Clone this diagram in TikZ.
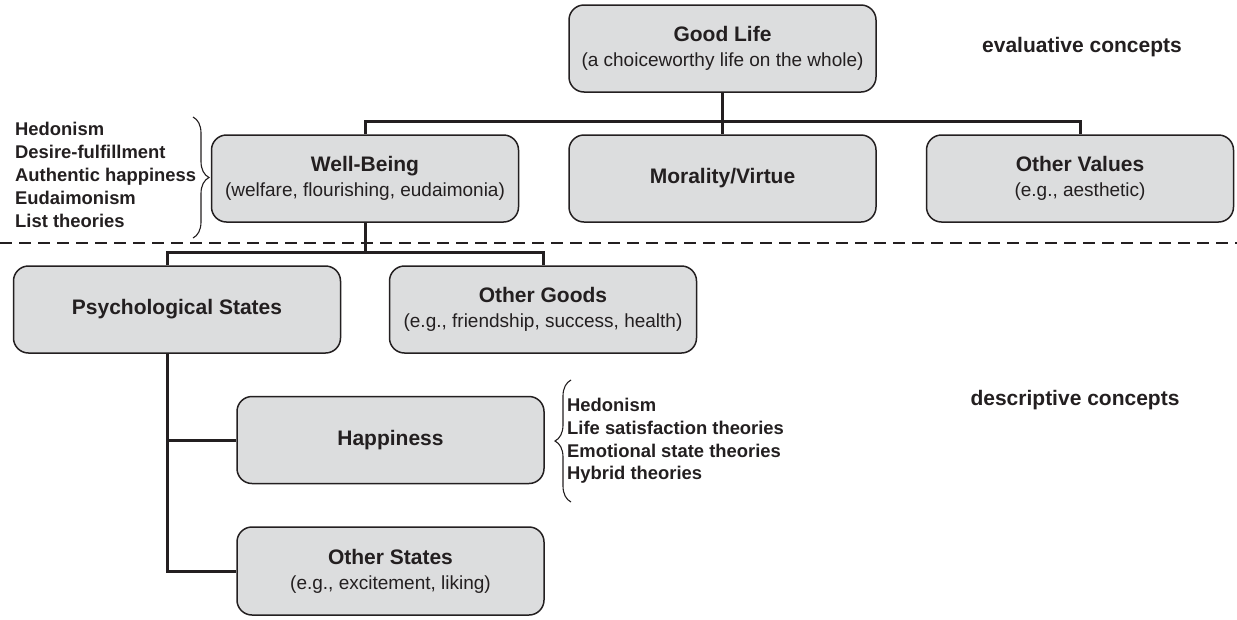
\documentclass[tikz,border=0pt]{standalone}
\usepackage{fontspec}
\setmainfont{Liberation Sans}
\usetikzlibrary{calc,decorations.pathreplacing}
\definecolor{boxfill}{RGB}{220,221,222}
\definecolor{ink}{RGB}{35,31,32}
\tikzset{
  box/.style={draw=ink, line width=1.5pt, fill=boxfill, rounded corners=15pt,
    minimum width=307pt, minimum height=87pt, inner sep=0pt, align=center,
    text=ink, font=\fontsize{19}{25}\selectfont},
  conn/.style={draw=ink, line width=3pt},
  bracestyle/.style={draw=ink, line width=1.1pt, decorate,
    decoration={brace, amplitude=16pt, aspect=0.5}},
  listtext/.style={align=left, anchor=west, inner sep=0pt, text=ink,
    font=\fontsize{18.4}{22.8}\selectfont\bfseries},
  concept/.style={inner sep=0pt, text=ink, font=\fontsize{21}{25}\selectfont\bfseries},
  sep/.style={draw=ink, line width=1.3pt, dash pattern=on 12pt off 7pt}
}
\newcommand{\ttl}[1]{{\bfseries\fontsize{21}{25}\selectfont #1}}
\begin{document}
\begin{tikzpicture}[x=1pt,y=-1pt]
\useasboundingbox (0,0) rectangle (1237,619);
% nodes
\node[box] (gl) at (722.5,48.5) {\ttl{Good Life}\\(a choiceworthy life on the whole)};
\node[box] (wb) at (365,178.5) {\ttl{Well-Being}\\(welfare, flourishing, eudaimonia)};
\node[box] (mv) at (722.5,178.5) {\ttl{Morality/Virtue}};
\node[box] (ov) at (1080,178.5) {\ttl{Other Values}\\(e.g., aesthetic)};
\node[box, minimum width=327pt] (ps) at (177,309.5) {\ttl{Psychological States}};
\node[box] (og) at (543,309.5) {\ttl{Other Goods}\\(e.g., friendship, success, health)};
\node[box] (hp) at (390.5,440) {\ttl{Happiness}};
\node[box, minimum height=88pt] (os) at (390.5,571) {\ttl{Other States}\\(e.g., excitement, liking)};
% helper coordinates
\coordinate (bus1) at (0,121);
\coordinate (bus2) at (0,252);
\coordinate (psx) at (167,0);
\coordinate (dl) at (0,243);
\coordinate (dr) at (1237,243);
% dashed separator
\draw[sep] (dl) -- (dr);
% connectors
\draw[conn] (gl.south) -- (mv.north);
\draw[conn] (wb.north) -- (wb.north |- bus1) -- (ov.north |- bus1) -- (ov.north);
\draw[conn] (wb.south) -- (wb.south |- bus2);
\draw[conn] (psx |- ps.north) -- (psx |- bus2) -- (og.north |- bus2) -- (og.north);
\draw[conn] (psx |- ps.south) -- (psx |- os.west) -- (os.west);
\draw[conn] (psx |- hp.west) -- (hp.west);
% left list and brace
\node[listtext] (wbl) at (15,175) {Hedonism\\Desire-fulfillment\\Authentic happiness\\Eudaimonism\\List theories};
\coordinate (b1t) at (193,117);
\coordinate (b1b) at (193,238);
\draw[bracestyle] (b1t) -- (b1b);
% happiness list and brace
\coordinate (b2t) at (571,380);
\coordinate (b2b) at (571,502);
\draw[bracestyle] (b2b) -- (b2t);
\node[listtext] (hpl) at (567,441) {Hedonism\\Life satisfaction theories\\Emotional state theories\\Hybrid theories};
% concept labels
\node[concept] (ev) at (1082,47) {evaluative concepts};
\node[concept] (de) at (1075,400) {descriptive concepts};
\end{tikzpicture}
\end{document}
